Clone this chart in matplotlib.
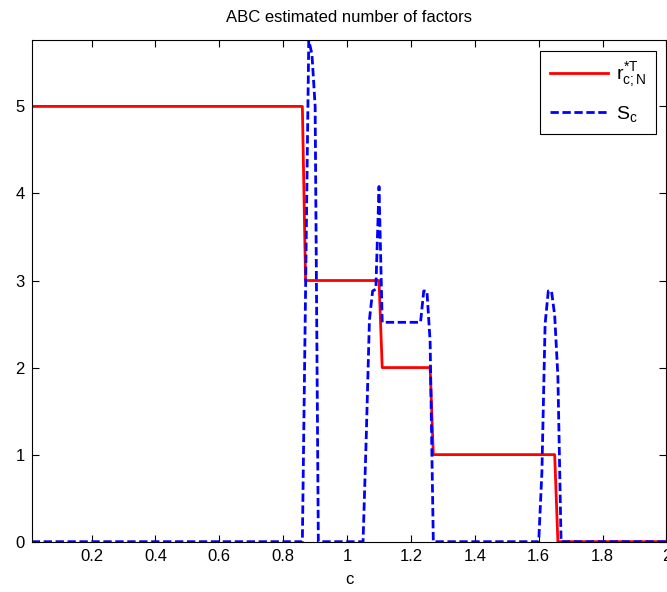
import matplotlib
matplotlib.use("Agg")
import matplotlib.pyplot as plt

plt.rcParams['font.family'] = ['Liberation Sans', 'DejaVu Sans']
plt.rcParams['mathtext.fontset'] = 'custom'
plt.rcParams['mathtext.rm'] = 'Liberation Sans'
plt.rcParams['mathtext.it'] = 'Liberation Sans'

# estimated number of factors r (step function), breakpoints
c_r = [0.0125, 0.86, 0.87, 1.10, 1.11, 1.26, 1.27, 1.65, 1.66, 2.0]
r_vals = [5, 5, 3, 3, 2, 2, 1, 1, 0, 0]

# S_c curve
c_s = [0.0125, 0.86, 0.87, 0.88, 0.89, 0.90, 0.91,
       1.05, 1.06, 1.07, 1.08, 1.09, 1.10, 1.11,
       1.23, 1.24, 1.25, 1.26, 1.27,
       1.60, 1.61, 1.62, 1.63, 1.64, 1.65, 1.66, 1.67, 2.0]
s_vals = [0, 0, 2.88, 5.76, 5.6, 5.0, 0,
          0, 1.2, 2.55, 2.88, 2.9, 4.08, 2.52,
          2.52, 2.88, 2.88, 2.3, 0,
          0, 0.8, 2.5, 2.88, 2.88, 2.6, 1.9, 0, 0]

x_ticks = [0.2, 0.4, 0.6, 0.8, 1.0, 1.2, 1.4, 1.6, 1.8, 2.0]
x_labels = ['0.2', '0.4', '0.6', '0.8', '1', '1.2', '1.4', '1.6', '1.8', '2']
y_ticks = [0, 1, 2, 3, 4, 5]

fig = plt.figure(figsize=(6.67, 5.92), dpi=100)
ax = fig.add_axes([0.0475, 0.085, 0.9517, 0.847])

ax.plot(c_r, r_vals, color='red', lw=2, label=r'$r^{*T}_{c;N}$')
ax.plot(c_s, s_vals, color='blue', lw=2, dashes=(3, 1.3), label=r'$S_c$')

ax.set_xlim(0.0125, 2)
ax.set_ylim(0, 5.76)
ax.set_xticks(x_ticks)
ax.set_xticklabels(x_labels)
ax.set_yticks(y_ticks)
ax.tick_params(direction='in', length=5, width=0.8, labelsize=12,
               top=True, right=True, pad=5)
for sp in ax.spines.values():
    sp.set_linewidth(0.8)

ax.set_title('ABC estimated number of factors', fontsize=12, pad=13)
ax.set_xlabel('c', fontsize=12, labelpad=6)

leg = ax.legend(loc='upper right', fontsize=14, handlelength=3.0,
                fancybox=False, framealpha=1, edgecolor='black',
                borderaxespad=0.55, labelspacing=0.75, borderpad=0.5,
                handletextpad=0.4)
leg.get_frame().set_linewidth(0.8)

fig.savefig('out.png', dpi=100)
